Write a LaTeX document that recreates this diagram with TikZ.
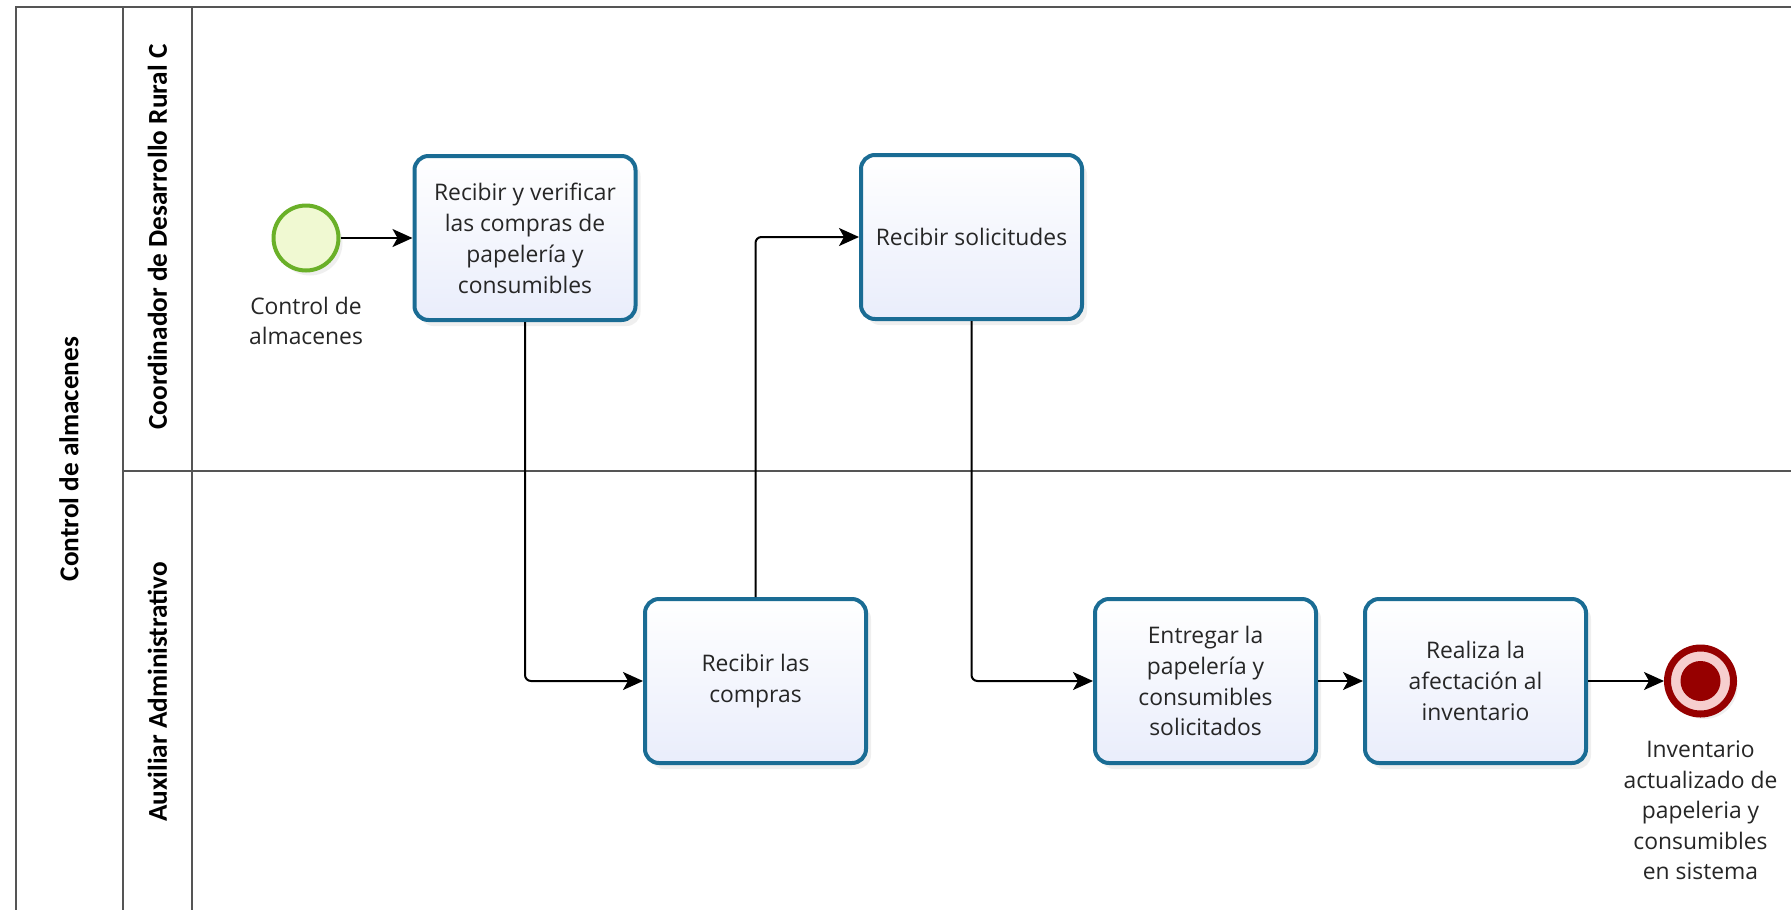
\documentclass[tikz,border=0pt]{standalone}
\usepackage{fontspec}
\setmainfont{Open Sans}
\newfontfamily\lanefont{Carlito}
\usepackage{tikz}
\usetikzlibrary{positioning,arrows.meta,shadows}
\definecolor{taskblue}{RGB}{26,108,148}
\definecolor{taskfill}{RGB}{233,237,251}
\definecolor{startgreen}{RGB}{106,176,40}
\definecolor{startfill}{RGB}{240,249,210}
\definecolor{endred}{RGB}{150,0,0}
\definecolor{endpink}{RGB}{246,206,206}
\definecolor{poolgray}{RGB}{85,85,85}

\begin{document}
\begin{tikzpicture}[
  task/.style={draw=taskblue, line width=0.08cm, rounded corners=0.28cm,
    top color=white, bottom color=taskfill, minimum width=4.42cm, minimum height=3.28cm,
    align=center, text=black!85, font=\fontsize{13}{17.6}\selectfont,
    drop shadow={shadow xshift=0.1cm, shadow yshift=-0.12cm, opacity=0.12}},
  startev/.style={circle, draw=startgreen, line width=0.08cm, fill=startfill,
    minimum size=1.3cm, inner sep=0pt,
    drop shadow={shadow xshift=0.08cm, shadow yshift=-0.1cm, opacity=0.12}},
  endev/.style={circle, draw=endred, line width=0.14cm, fill=endpink,
    minimum size=1.32cm, inner sep=0pt,
    path picture={\fill[endred] (path picture bounding box.center) circle (0.4cm);},
    drop shadow={shadow xshift=0.08cm, shadow yshift=-0.1cm, opacity=0.12}},
  evlabel/.style={align=center, inner sep=0pt, text=black!85,
    font=\fontsize{13}{17.4}\selectfont},
  lanelbl/.style={rotate=90, font=\lanefont\bfseries\fontsize{15.5}{18}\selectfont},
  pool/.style={draw=poolgray, line width=0.04cm},
  flow/.style={-{Stealth[length=0.4cm, width=0.36cm, inset=0.1cm]}, line width=0.04cm,
    rounded corners=0.12cm}
]
  \useasboundingbox (0,0) rectangle (35.82,-18.18);
  \fill[white] (0,0) rectangle (35.82,-18.18);
  \clip (0,0) rectangle (35.82,-18.18);

  \draw[pool] (0.32,-0.14) rectangle (36.5,-18.5);
  \draw[pool] (2.46,-0.14) -- (2.46,-18.5);
  \draw[pool] (3.84,-0.14) -- (3.84,-18.5);
  \draw[pool] (2.46,-9.42) -- (36.5,-9.42);

  \node[lanelbl] (poollbl) at (1.38,-9.18) {Control de almacenes};
  \node[lanelbl] (coordlbl) at (3.15,-4.74) {Coordinador de Desarrollo Rural C};
  \node[lanelbl] (auxlbl) at (3.15,-13.84) {Auxiliar Administrativo};

  \node[startev] (start) at (6.12,-4.76) {};
  \node[evlabel, below=0.48cm of start] (startlbl) {Control de\\almacenes};
  \node[task, right=1.44cm of start] (recver) {Recibir y verificar\\las compras de\\papelería y\\consumibles};
  \node[task] (recsol) at (19.43,-4.74) {Recibir solicitudes};
  \node[task] (reccom) at (15.11,-13.62) {Recibir las\\compras};
  \node[task] (entreg) at (24.11,-13.62) {Entregar la\\papelería y\\consumibles\\solicitados};
  \node[task, right=0.9cm of entreg] (afect) {Realiza la\\afectación al\\inventario};
  \node[endev, right=1.52cm of afect] (fin) {};
  \node[evlabel, below=0.46cm of fin] (finlbl) {Inventario\\actualizado de\\papeleria y\\consumibles\\en sistema};

  \draw[flow] (start) -- (recver);
  \draw[flow] (recver.south) |- (reccom.west);
  \draw[flow] (reccom.north) |- (recsol.west);
  \draw[flow] (recsol.south) |- (entreg.west);
  \draw[flow] (entreg) -- (afect);
  \draw[flow] (afect) -- (fin);
\end{tikzpicture}
\end{document}
